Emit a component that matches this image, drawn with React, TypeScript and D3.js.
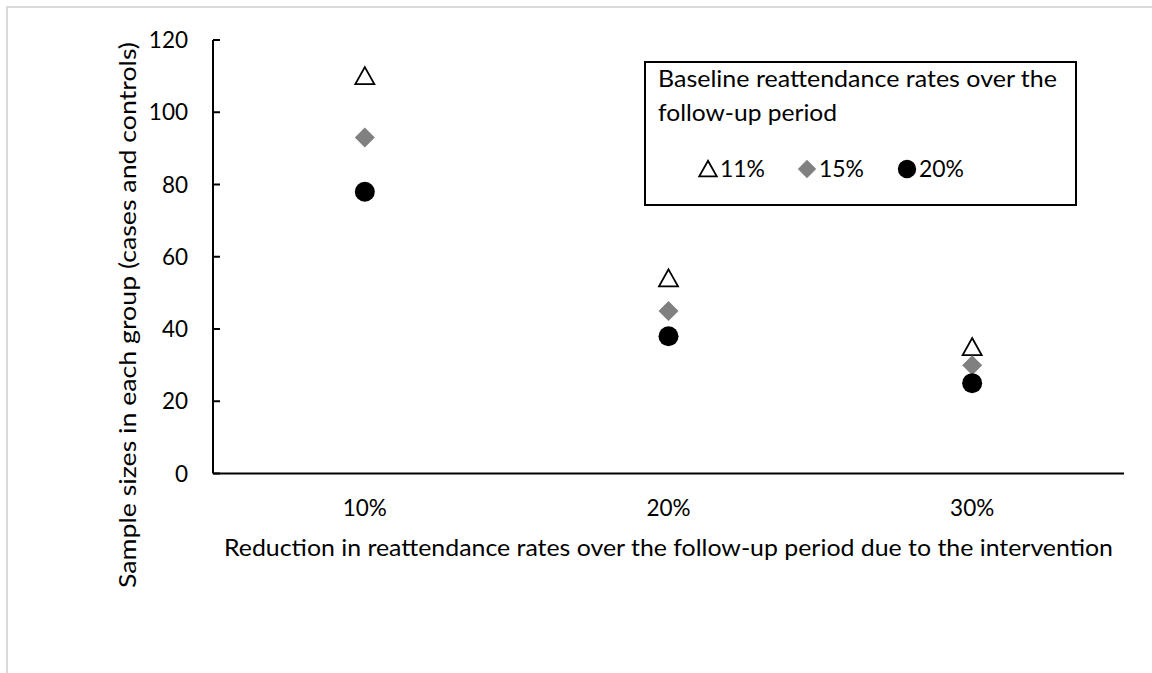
import React from "react";
import * as d3 from "d3";

const categories = ["10%", "20%", "30%"];
const seriesNames = ["11%", "15%", "20%"];
const values11 = [110, 54, 35];
const values15 = [93, 45, 30];
const values20 = [78, 38, 25];
const yTicks = [0, 20, 40, 60, 80, 100, 120];

const FONT = "Lato, 'Open Sans', sans-serif";
const FS = 22.5;

function Marker({ kind, x, y, s = 1 }: { kind: number; x: number; y: number; s?: number }) {
  if (kind === 0) {
    const p = d3.path();
    p.moveTo(x, y - 9 * s);
    p.lineTo(x + 9.5 * s, y + 8 * s);
    p.lineTo(x - 9.5 * s, y + 8 * s);
    p.closePath();
    return <path d={p.toString()} fill="#fff" stroke="#000" strokeWidth={1.8} />;
  }
  if (kind === 1) {
    const p = d3.symbol().type(d3.symbolDiamond2).size(255 * s * s)();
    return <path d={p || ""} transform={`translate(${x},${y})`} fill="#808080" />;
  }
  return <circle cx={x} cy={y} r={10 * s} fill="#000" />;
}

export default function App() {
  const W = 1152, H = 673;
  const left = 213, right = 1124, top = 40, bottom = 473.5;
  const x = d3.scaleBand().domain(categories).range([left, right]);
  const y = d3.scaleLinear().domain([0, 120]).range([bottom, top]);
  const series = [values11, values15, values20];

  return (
    <svg width={W} height={H} style={{ position: "absolute", left: 0, top: 0, background: "#fff" }} fontFamily={FONT}>
      <rect x={7} y={7} width={W + 20} height={H + 20} fill="#fff" stroke="#d9d9d9" strokeWidth={2} />
      {/* y axis */}
      <line x1={left} x2={left} y1={y(120)} y2={y(0)} stroke="#000" strokeWidth={2} />
      {yTicks.map((t) => (
        <g key={t}>
          <line x1={left} x2={left + 7} y1={y(t)} y2={y(t)} stroke="#000" strokeWidth={2} />
          <text x={188} y={y(t)} dy="0.36em" textAnchor="end" fontSize={FS} fill="#000">{t}</text>
        </g>
      ))}
      {/* x axis */}
      <line x1={left} x2={right} y1={y(0)} y2={y(0)} stroke="#000" strokeWidth={2} />
      {categories.map((c) => (
        <text key={c} x={(x(c) as number) + x.bandwidth() / 2} y={516} textAnchor="middle" fontSize={FS} fill="#000">{c}</text>
      ))}
      <text x={224} y={556} fontSize={FS} fill="#000" textLength={889} lengthAdjust="spacingAndGlyphs">
        Reduction in reattendance rates over the follow-up period due to the intervention
      </text>
      <text transform={`translate(136,315) rotate(-90)`} textAnchor="middle" fontSize={FS} fill="#000" textLength={546} lengthAdjust="spacingAndGlyphs">
        Sample sizes in each group (cases and controls)
      </text>
      {/* points */}
      {series.map((vals, si) =>
        vals.map((v, i) => (
          <Marker key={`${si}-${i}`} kind={si} x={(x(categories[i]) as number) + x.bandwidth() / 2} y={y(v)} />
        ))
      )}
      {/* legend */}
      <rect x={645} y={62} width={431} height={143} fill="#fff" stroke="#000" strokeWidth={2} />
      <text x={658} y={87} fontSize={FS} fill="#000" textLength={399} lengthAdjust="spacingAndGlyphs">Baseline reattendance rates over the</text>
      <text x={658} y={121} fontSize={FS} fill="#000" textLength={179} lengthAdjust="spacingAndGlyphs">follow-up period</text>
      {seriesNames.map((n, i) => {
        const cx = [708, 807, 907][i];
        return (
          <g key={n}>
            <Marker kind={i} x={cx} y={169} s={0.92} />
            <text x={cx + 12} y={177} fontSize={FS} fill="#000" textLength={45} lengthAdjust="spacingAndGlyphs">{n}</text>
          </g>
        );
      })}
    </svg>
  );
}
